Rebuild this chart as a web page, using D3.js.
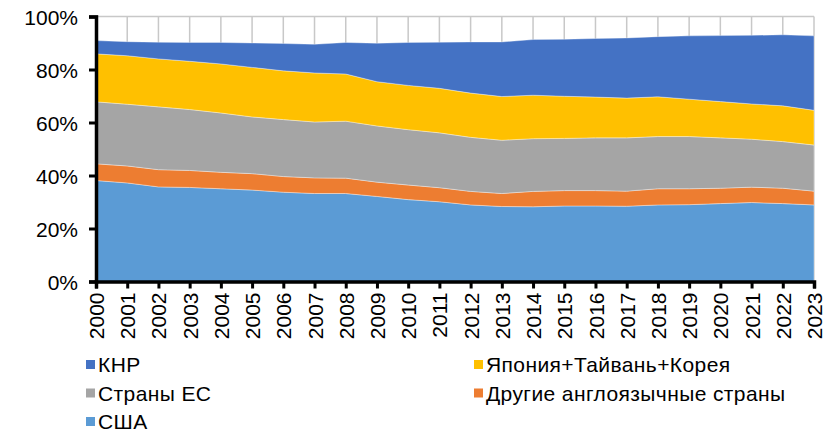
<!DOCTYPE html>
<html>
<head>
<meta charset="utf-8">
<script src="https://cdn.jsdelivr.net/npm/d3@7"></script>
<style>
  body { margin: 0; background: #fff; }
  svg text { font-family: "Liberation Sans", Arial, sans-serif; fill: #000; }
</style>
</head>
<body>
<div id="chart"></div>
<script>
// years on the x axis
var years = [2000, 2001, 2002, 2003, 2004, 2005, 2006, 2007, 2008, 2009, 2010, 2011,
             2012, 2013, 2014, 2015, 2016, 2017, 2018, 2019, 2020, 2021, 2022, 2023];

// shares, %
var usa   = [38.1, 37.2, 35.7, 35.5, 35.0, 34.5, 33.7, 33.2, 33.2, 32.1, 30.9, 30.1,
             28.9, 28.3, 28.2, 28.5, 28.5, 28.4, 28.9, 29.0, 29.4, 29.8, 29.4, 28.9];
var otherEng = [6.3, 6.4, 6.5, 6.4, 6.2, 6.2, 5.9, 5.9, 5.8, 5.4, 5.5, 5.3,
             5.1, 4.9, 5.8, 5.8, 5.8, 5.7, 6.1, 6.0, 5.8, 5.8, 5.8, 5.2];
var eu    = [23.4, 23.3, 23.7, 23.0, 22.4, 21.4, 21.5, 21.1, 21.5, 21.2, 20.9, 20.7,
             20.4, 20.1, 19.9, 19.7, 19.9, 20.1, 19.7, 19.7, 19.0, 18.1, 17.6, 17.4];
var jtk   = [18.1, 18.3, 18.1, 18.2, 18.5, 18.7, 18.4, 18.5, 17.8, 16.7, 16.7, 16.8,
             16.7, 16.5, 16.4, 15.9, 15.4, 15.0, 15.0, 14.1, 13.7, 13.3, 13.5, 13.1];
var china = [5.0, 5.3, 6.3, 7.1, 8.1, 9.2, 10.3, 10.8, 11.9, 14.5, 16.2, 17.4,
             19.3, 20.6, 21.0, 21.5, 22.1, 22.7, 22.7, 23.9, 24.9, 25.9, 26.8, 28.1];

var yTicks = [0, 20, 40, 60, 80, 100];

// stacking order, bottom to top
var seriesNames = ["США", "Другие англоязычные страны", "Страны ЕС", "Япония+Тайвань+Корея", "КНР"];
var seriesValues = [usa, otherEng, eu, jtk, china];
var colors = ["#5B9BD5", "#ED7D31", "#A5A5A5", "#FFC000", "#4472C4"];

var table = years.map(function(y, i) {
  var row = { year: y };
  seriesNames.forEach(function(n, k) { row[n] = seriesValues[k][i]; });
  return row;
});

var svg = d3.select("#chart").append("svg")
    .attr("width", 837)
    .attr("height", 434);

var x = d3.scaleLinear().domain([2000, 2023]).range([96, 814]);
var y = d3.scaleLinear().domain([0, 100]).range([281.5, 16.5]);

// gridlines
svg.append("g").selectAll("line").data(years).enter().append("line")
    .attr("x1", function(d) { return x(d); })
    .attr("x2", function(d) { return x(d); })
    .attr("y1", y(0)).attr("y2", y(100))
    .style("stroke", "#c8c8c8").style("stroke-width", 1.5);
svg.append("g").selectAll("line").data(yTicks).enter().append("line")
    .attr("x1", x(2000)).attr("x2", x(2023))
    .attr("y1", function(d) { return y(d); })
    .attr("y2", function(d) { return y(d); })
    .style("stroke", "#c8c8c8").style("stroke-width", 1.5);

// stacked areas
var stacked = d3.stack().keys(seriesNames)(table);
var area = d3.area()
    .x(function(d) { return x(d.data.year); })
    .y0(function(d) { return y(d[0]); })
    .y1(function(d) { return y(d[1]); });

svg.append("g").selectAll("path").data(stacked).enter().append("path")
    .attr("d", area)
    .style("fill", function(d, i) { return colors[i]; })
    .style("stroke", "#ffffff")
    .style("stroke-opacity", 0.45)
    .style("stroke-width", 0.8);

// y axis
var yAxis = svg.append("g")
    .attr("transform", "translate(" + x(2000) + ",0)")
    .call(d3.axisLeft(y).tickValues(yTicks).tickSize(7).tickPadding(10)
          .tickFormat(function(d) { return d + "%"; }));
yAxis.select(".domain").style("stroke", "#000").style("stroke-width", 3.5);
yAxis.selectAll(".tick line").attr("x1", 2).style("stroke", "#000").style("stroke-width", 3);
yAxis.selectAll(".tick text").style("font-size", "21px").attr("x", -18).attr("dy", "0.36em");

// x axis
var xAxis = svg.append("g")
    .attr("transform", "translate(0," + y(0) + ")")
    .call(d3.axisBottom(x).tickValues(years).tickSize(7).tickFormat(d3.format("d")));
xAxis.select(".domain").style("stroke", "#000").style("stroke-width", 3.5);
xAxis.selectAll(".tick line").style("stroke", "#000").style("stroke-width", 3);
xAxis.selectAll(".tick text")
    .style("font-size", "21px")
    .attr("text-anchor", "end")
    .attr("transform", "rotate(-90)")
    .attr("x", -11)
    .attr("y", 0)
    .attr("dy", "0.36em");

// legend (two columns, reading order as in the picture)
var legendOrder = ["КНР", "Япония+Тайвань+Корея", "Страны ЕС", "Другие англоязычные страны", "США"];
var legend = svg.append("g").selectAll("g").data(legendOrder).enter().append("g")
    .attr("transform", function(d, i) {
      return "translate(" + (i % 2 === 0 ? 86 : 474) + "," + (364.5 + Math.floor(i / 2) * 28.5) + ")";
    });
legend.append("rect")
    .attr("x", 0).attr("y", -4.5).attr("width", 9).attr("height", 9)
    .style("fill", function(d) { return colors[seriesNames.indexOf(d)]; });
legend.append("text")
    .attr("x", 12).attr("dy", "0.36em")
    .style("font-size", "21px")
    .style("letter-spacing", "0.4px")
    .text(function(d) { return d; });
</script>
</body>
</html>
